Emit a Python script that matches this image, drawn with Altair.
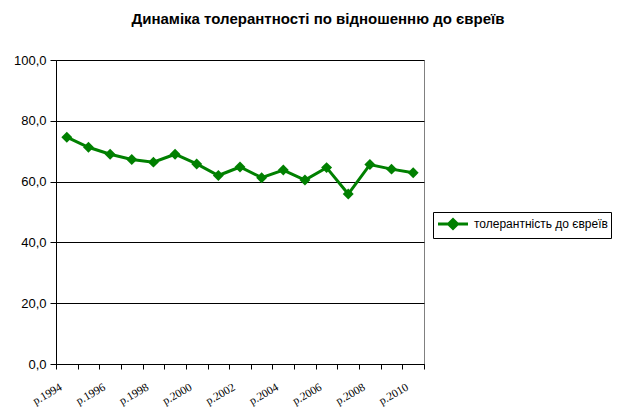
import altair as alt
import pandas as pd

years = [f"р.{y}" for y in range(1994, 2011)]
values = [74.6, 71.3, 69.0, 67.3, 66.4, 69.0, 65.8, 62.0, 64.8, 61.3, 63.8, 60.5, 64.6, 55.9, 65.6, 64.1, 62.9]
series_name = "толерантність до євреїв"
title_text = "Динаміка толерантності по відношенню до євреїв"

df = pd.DataFrame({"year": years, "value": values, "series": series_name})

green = "#008000"

x = alt.X("year:N", sort=years,
          scale=alt.Scale(type="band", paddingInner=0, paddingOuter=0),
          axis=alt.Axis(title=None, tickBand="extent", grid=False,
                        labelExpr="toNumber(substring(datum.value, 2)) % 2 == 0 ? datum.value : ''",
                        labelAngle=-30, labelAlign="right", labelBaseline="top",
                        labelFont="Liberation Serif", labelFontSize=11.5, labelColor="black",
                        domainColor="black", tickColor="black", tickSize=5,
                        labelPadding=12, labelOffset=-9))
y = alt.Y("value:Q", scale=alt.Scale(domain=[0, 100], nice=False),
          axis=alt.Axis(title=None, values=[0, 20, 40, 60, 80, 100],
                        labelExpr="replace(format(datum.value, '.1f'), '.', ',')",
                        labelFont="Liberation Sans", labelFontSize=13, labelColor="black",
                        gridColor="black", gridWidth=1, domainColor="black",
                        tickColor="black", tickSize=6, labelPadding=4))

color = alt.Color("series:N", scale=alt.Scale(range=[green]),
                  legend=alt.Legend(title=None, orient="none", legendX=377, legendY=152,
                                    strokeColor="black", padding=3,
                                    symbolType="M-2,0L2,0M-0.6,0L0,-0.6L0.6,0L0,0.6Z",
                                    symbolSize=225, symbolStrokeWidth=3,
                                    symbolFillColor=green, symbolStrokeColor=green,
                                    symbolOffset=8,
                                    labelFont="Liberation Sans", labelFontSize=12,
                                    labelColor="black", labelOffset=12))

line = alt.Chart(df).mark_line(strokeWidth=3).encode(x=x, y=y, color=color)
pts = alt.Chart(df).mark_point(shape="diamond", filled=True, size=120, opacity=1).encode(
    x=x, y=y, color=alt.Color("series:N", scale=alt.Scale(range=[green]), legend=None))

chart = (line + pts).properties(
    width=368, height=304,
    title=alt.TitleParams(title_text, font="Liberation Sans", fontSize=15, fontWeight="bold",
                          color="black", dx=78, dy=16, offset=28, baseline="bottom"),
    autosize=alt.AutoSizeParams(type="none"),
    padding={"left": 48, "top": 52, "right": 200, "bottom": 48},
).configure_view(stroke="#808080", strokeWidth=1)

chart.save("out.html", embed_options={"renderer": "svg", "actions": False})
